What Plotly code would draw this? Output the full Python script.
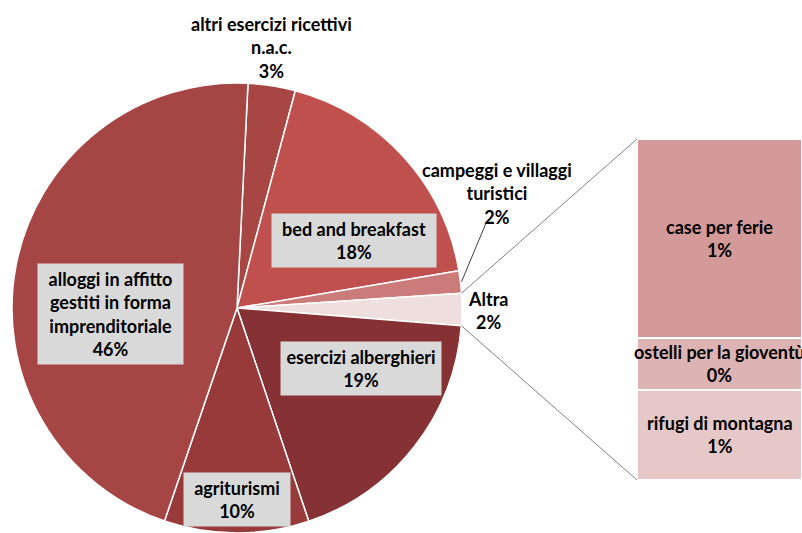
import math
import plotly.graph_objects as go

W, H = 802, 533

# pie slices, clockwise from the top
pie_labels = ["altri esercizi ricettivi<br>n.a.c.", "bed and breakfast",
              "campeggi e villaggi<br>turistici", "Altra", "esercizi alberghieri",
              "agriturismi", "alloggi in affitto<br>gestiti in forma<br>imprenditoriale"]
pie_colors = ["#A84644", "#C0504D", "#CB7B79", "#EEDEDE", "#863234", "#973A39", "#A54644"]

# the "Altra" slice is split out into the bar
bar_labels = ["rifugi di montagna", "ostelli per la gioventù", "case per ferie"]
bar_values = [0.61, 0.35, 1.34]
bar_colors = ["#E6C8C8", "#DEB3B3", "#D49A9A"]

pie_values = [3.4, 18.2, 1.6, sum(bar_values), 18.6, 10.4, 45.6]
rotation = 2.8

FONT = dict(family="Lato", size=18, color="#000000", weight="bold")


def px(x, y):
    return x / W, 1 - y / H


# pie geometry (paper domain)
pie_dom_x = [12 / W, 462 / W]
pie_dom_y = [0, 450 / H]
cx = (pie_dom_x[0] + pie_dom_x[1]) / 2 * W
cy = (1 - (pie_dom_y[0] + pie_dom_y[1]) / 2) * H
R = (pie_dom_y[1] - pie_dom_y[0]) * H / 2

total = sum(pie_values)
cum = [0]
for v in pie_values:
    cum.append(cum[-1] + v)


def edge_point(frac, r=R):
    a = math.radians(rotation + 360 * frac)
    return cx + r * math.sin(a), cy - r * math.cos(a)


fig = go.Figure()

fig.add_trace(go.Pie(
    values=pie_values, labels=pie_labels, sort=False, direction="clockwise",
    rotation=rotation, textinfo="none", hoverinfo="label+percent",
    marker=dict(colors=pie_colors, line=dict(color="white", width=1.5)),
    domain=dict(x=pie_dom_x, y=pie_dom_y), showlegend=False,
))

# stacked bar of the "Altra" breakdown
bar_dom_x = [637 / W, 1.0]
bar_dom_y = [1 - 480 / H, 1 - 139 / H]
for lab, val, col in zip(bar_labels, bar_values, bar_colors):
    fig.add_trace(go.Bar(
        x=[0], y=[val], name=lab, width=1, marker=dict(color=col, line=dict(color="white", width=2)),
        xaxis="x", yaxis="y", showlegend=False, hoverinfo="name+y",
    ))

annotations = []
base = 0
for lab, val in zip(bar_labels, bar_values):
    annotations.append(dict(
        x=0, y=base + val / 2, xref="x", yref="y", text=f"{lab}<br>{val:.0f}%",
        xanchor="center", yanchor="middle", showarrow=False, font=FONT,
    ))
    base += val

# pie labels: (pixel center, box size or None)
label_pos = [
    ((271, 47), None),
    ((354, 240), (162, 51)),
    ((497, 193), None),
    ((488, 310), None),
    ((361, 368), (158, 51)),
    ((237, 499), (104, 51)),
    ((110, 314), (143, 98)),
]
for lab, val, ((x, y), box) in zip(pie_labels, pie_values, label_pos):
    xx, yy = px(x, y)
    a = dict(x=xx, y=yy, xref="paper", yref="paper", text=f"{lab}<br>{val / total * 100:.0f}%",
             xanchor="center", yanchor="middle", showarrow=False, font=FONT)
    if box:
        a.update(width=box[0], height=box[1], bgcolor="#D9D9D9")
    annotations.append(a)

shapes = []
# connector lines between the Altra slice and the bar
i_altra = pie_labels.index("Altra")
p_top = edge_point(cum[i_altra] / total)
p_bot = edge_point(cum[i_altra + 1] / total)
bx = bar_dom_x[0] * W
for p, by in ((p_top, (1 - bar_dom_y[1]) * H), (p_bot, (1 - bar_dom_y[0]) * H)):
    x0, y0 = px(*p)
    x1, y1 = px(bx, by)
    shapes.append(dict(type="line", xref="paper", yref="paper", x0=x0, y0=y0, x1=x1, y1=y1,
                       line=dict(color="#808080", width=1)))

# leader line for campeggi
i_c = 2
m = edge_point((cum[i_c] + pie_values[i_c] / 2) / total, R + 1)
pts = [px(*m), px(486, 223), px(494, 223)]
shapes.append(dict(type="path", xref="paper", yref="paper",
                   path="M {} {} L {} {} L {} {}".format(*[c for p in pts for c in p]),
                   line=dict(color="#404040", width=1)))

fig.update_layout(
    width=W, height=H, margin=dict(l=0, r=0, t=0, b=0),
    paper_bgcolor="white", plot_bgcolor="rgba(0,0,0,0)",
    barmode="stack", bargap=0,
    xaxis=dict(domain=bar_dom_x, range=[-0.5, 0.5], visible=False, fixedrange=True),
    yaxis=dict(domain=bar_dom_y, range=[0, sum(bar_values)], visible=False, fixedrange=True),
    annotations=annotations, shapes=shapes,
    font=FONT,
)

fig.write_html("out.html", config={"displayModeBar": False},
               post_script="document.body.style.margin='0';")
